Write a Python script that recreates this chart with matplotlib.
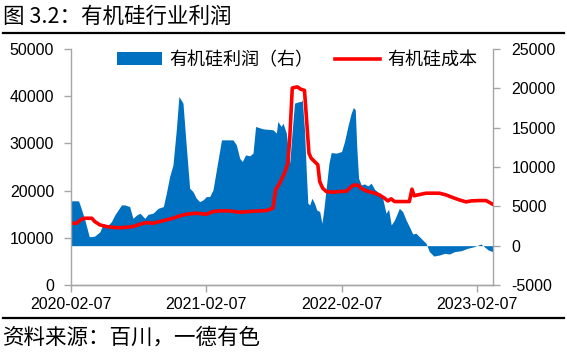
import matplotlib
matplotlib.use('Agg')
import matplotlib.pyplot as plt
import matplotlib.dates as mdates
from matplotlib.lines import Line2D
from matplotlib.patches import Patch
import pandas as pd

# profit (right axis)
profit_dates = [
    '2020-02-07', '2020-02-28', '2020-03-03', '2020-03-16', '2020-03-28', '2020-04-04',
    '2020-04-12', '2020-04-21', '2020-04-26', '2020-05-05', '2020-05-14', '2020-05-27',
    '2020-06-05', '2020-06-14', '2020-06-23', '2020-07-02', '2020-07-15', '2020-07-24',
    '2020-08-03', '2020-08-12', '2020-08-25', '2020-09-03', '2020-09-16', '2020-09-30',
    '2020-10-14', '2020-10-22', '2020-10-31', '2020-11-09', '2020-11-18', '2020-11-25',
    '2020-12-06', '2020-12-15', '2020-12-24', '2021-01-02', '2021-01-11', '2021-01-20',
    '2021-01-29', '2021-02-07', '2021-02-16', '2021-02-25', '2021-03-10', '2021-03-20',
    '2021-04-20', '2021-04-29', '2021-05-08', '2021-05-15', '2021-05-24', '2021-06-04',
    '2021-06-13', '2021-06-20', '2021-07-10', '2021-08-06', '2021-08-15', '2021-08-19',
    '2021-08-28', '2021-09-02', '2021-09-11', '2021-09-20', '2021-09-27', '2021-10-03',
    '2021-10-17', '2021-10-21', '2021-10-24', '2021-10-30', '2021-11-04', '2021-11-08',
    '2021-11-13', '2021-11-19', '2021-11-26', '2021-12-02', '2021-12-10', '2021-12-16',
    '2021-12-21', '2021-12-28', '2022-01-04', '2022-01-10', '2022-01-24', '2022-02-07',
    '2022-02-15', '2022-02-24', '2022-03-05', '2022-03-11', '2022-03-16', '2022-03-20',
    '2022-03-25', '2022-04-01', '2022-04-10', '2022-04-19', '2022-04-28', '2022-05-07',
    '2022-05-20', '2022-05-29', '2022-06-07', '2022-06-14', '2022-06-21', '2022-06-30',
    '2022-07-13', '2022-07-22', '2022-07-31', '2022-08-09', '2022-08-18', '2022-08-27',
    '2022-09-05', '2022-09-14', '2022-09-23', '2022-10-02', '2022-10-14', '2022-10-29',
    '2022-11-12', '2022-11-25', '2022-12-09', '2022-12-27', '2023-01-13', '2023-01-31',
    '2023-02-18', '2023-02-27', '2023-03-10', '2023-03-22',
]
profit = [
    5700, 5700, 5200, 3300, 1150, 1150,
    1230, 1570, 1780, 2840, 2420, 3060,
    3900, 4540, 5180, 5180, 4970, 3480,
    3900, 4120, 3480, 3990, 4120, 4750,
    4970, 6660, 8790, 10270, 14730, 18970,
    18120, 12600, 7300, 6880, 6030, 5600,
    5810, 6240, 6240, 7090, 10700, 13450,
    13450, 12820, 11120, 10700, 11540, 11420,
    11760, 15150, 14850, 14730, 14300, 15790,
    15150, 15580, 14300, 10480, 14730, 18120,
    18330, 18330, 18550, 14730, 9210, 5390,
    5180, 6030, 5390, 4540, 4330, 2840,
    4540, 7510, 10480, 11840, 11760, 11970,
    13240, 15150, 16850, 17570, 17270, 12600,
    8570, 7720, 7850, 7600, 7940, 7170,
    6660, 6030, 4120, 4630, 2630, 3270,
    4750, 4330, 3270, 2420, 1490, 1570,
    1150, 720, 300, -760, -1320, -1190,
    -980, -1060, -760, -640, -340, -130,
    210, -130, -550, -760,
]

# cost (left axis)
cost_dates = [
    '2020-02-07', '2020-02-23', '2020-03-07', '2020-03-16', '2020-04-04', '2020-04-12',
    '2020-04-26', '2020-05-14', '2020-06-05', '2020-06-27', '2020-07-24', '2020-08-12',
    '2020-08-29', '2020-09-16', '2020-10-04', '2020-10-22', '2020-11-09', '2020-11-27',
    '2020-12-15', '2021-01-11', '2021-02-07', '2021-02-25', '2021-03-15', '2021-04-11',
    '2021-05-08', '2021-06-13', '2021-07-19', '2021-08-06', '2021-08-13', '2021-08-24',
    '2021-09-06', '2021-09-15', '2021-09-20', '2021-09-27', '2021-10-08', '2021-10-12',
    '2021-10-19', '2021-10-30', '2021-11-04', '2021-11-11', '2021-11-17', '2021-11-26',
    '2021-12-05', '2021-12-10', '2021-12-18', '2021-12-28', '2022-01-14', '2022-02-01',
    '2022-02-20', '2022-03-01', '2022-03-10', '2022-03-23', '2022-04-01', '2022-04-14',
    '2022-05-02', '2022-05-20', '2022-06-03', '2022-06-12', '2022-06-21', '2022-06-30',
    '2022-07-18', '2022-08-09', '2022-08-16', '2022-08-22', '2022-09-01', '2022-09-10',
    '2022-09-23', '2022-10-11', '2022-10-29', '2022-11-16', '2022-12-04', '2022-12-22',
    '2023-01-09', '2023-01-23', '2023-02-14', '2023-03-04', '2023-03-22',
]
cost = [
    13080, 13080, 13930, 14140, 14140, 13440,
    12730, 12380, 12160, 12160, 12380, 12870,
    13230, 13080, 13440, 13790, 14140, 14640,
    14990, 15210, 14990, 15560, 15700, 15700,
    15420, 15630, 15770, 16270, 20160, 21570,
    23690, 25810, 30760, 41730, 41940, 41940,
    41510, 41230, 35710, 27930, 26870, 26170,
    25460, 21920, 20510, 19800, 19660, 19800,
    19870, 20510, 21150, 21150, 20510, 19940,
    19590, 19090, 18390, 17820, 18250, 17680,
    17680, 17680, 20300, 18900, 19090, 19240,
    19450, 19450, 19450, 19090, 18530, 18030,
    17610, 17820, 17890, 17890, 17110,
]

x_ticks = ['2020-02-07', '2021-02-07', '2022-02-07', '2023-02-07']
x_range = ['2020-02-07', '2023-03-24']

blue = '#0070C0'
red = '#FF0000'
grey = '#A6A6A6'

plt.rcParams['font.family'] = ['Liberation Sans', 'Noto Sans CJK SC']
plt.rcParams['axes.unicode_minus'] = False

fig = plt.figure(figsize=(5.67, 3.57), dpi=100)
ax = fig.add_axes([0.1247, 0.2017, 0.8703 - 0.1247, 0.8627 - 0.2017])
ax2 = ax.twinx()

pd_profit = pd.to_datetime(profit_dates)
pd_cost = pd.to_datetime(cost_dates)

ax2.fill_between(pd_profit, 0, profit, color=blue, linewidth=0)
ax.plot(pd_cost, cost, color=red, linewidth=2.6, solid_joinstyle='round')

# left axis drawn on top of the filled area
ax.set_zorder(ax2.get_zorder() + 1)
ax.patch.set_visible(False)

ax.set_xlim(pd.to_datetime(x_range))
ax.set_ylim(0, 50000)
ax.set_yticks(range(0, 50001, 10000))
ax2.set_ylim(-5000, 25000)
ax2.set_yticks(range(-5000, 25001, 5000))
ax.set_xticks(pd.to_datetime(x_ticks))
ax.xaxis.set_major_formatter(mdates.DateFormatter('%Y-%m-%d'))

for a in (ax, ax2):
    a.spines['top'].set_visible(False)
    for s in ('left', 'right', 'bottom'):
        a.spines[s].set_color(grey)
        a.spines[s].set_linewidth(1.0)
    a.tick_params(axis='both', direction='out', length=5, width=1, color=grey,
                  labelsize=11.5, labelcolor='black')
ax.tick_params(axis='y', pad=7)
ax2.tick_params(axis='y', pad=8)
ax.tick_params(axis='x', pad=4)
ax.spines['right'].set_visible(False)
ax2.spines['left'].set_visible(False)

handles = [Patch(facecolor=blue, edgecolor='none'),
           Line2D([0], [0], color=red, linewidth=2.6)]
labels = ['有机硅利润（右）', '有机硅成本']
ax.legend(handles, labels, loc='center', bbox_to_anchor=(0.535, 0.953), ncol=2,
          frameon=False, handlelength=2.5, columnspacing=1.2,
          handletextpad=0.4, borderaxespad=0,
          prop={'family': ['Noto Sans CJK SC'], 'size': 13})

fig.text(0.006, 0.952, '图 3.2：有机硅行业利润', fontsize=15.5, va='center', ha='left',
         family=['Noto Sans CJK SC'])
fig.text(0.006, 0.053, '资料来源：百川，一德有色', fontsize=15.5, va='center', ha='left',
         family=['Noto Sans CJK SC'])
fig.add_artist(Line2D([0.005, 0.995], [1 - 33 / 357, 1 - 33 / 357], color='black', linewidth=1.6))
fig.add_artist(Line2D([0.005, 0.995], [1 - 317.5 / 357, 1 - 317.5 / 357], color='black', linewidth=1.6))

fig.savefig('out.png', dpi=100)
